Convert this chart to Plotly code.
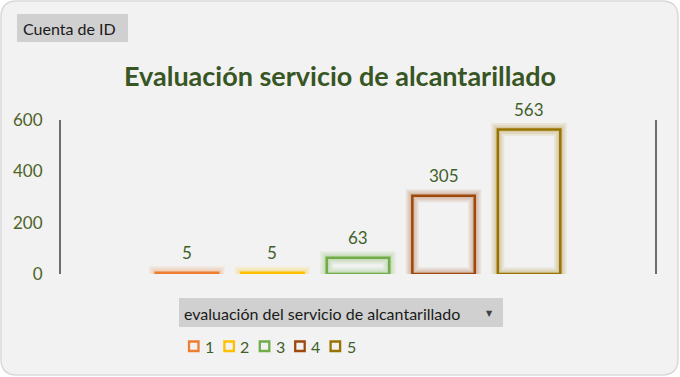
import plotly.graph_objects as go

categories = ["Total"]
series_names = ["1", "2", "3", "4", "5"]
series_values = [5, 5, 63, 305, 563]
series_colors = ["#ED7D31", "#FFC000", "#70AD47", "#9E480E", "#997300"]
glow_rgb = ["237,125,49", "255,192,0", "112,173,71", "158,72,14", "153,115,0"]
y_ticks = [0, 200, 400, 600]

W, H = 680, 377
L, R, T, B = 61, 25, 120, 103
PW, PH = W - L - R, H - T - B
BARGAP, GROUPGAP = 0.28, 0.27

def px(x):
    return (x - L) / PW

def py(y):
    return (H - B - y) / PH

fig = go.Figure()
for i, (name, val) in enumerate(zip(series_names, series_values)):
    for gw, ga in [(13, 0.10), (9, 0.12), (5, 0.14)]:
        fig.add_trace(go.Bar(
            x=categories, y=[val], name=name, offsetgroup=name, showlegend=False,
            marker=dict(color="rgba(0,0,0,0)",
                        line=dict(color=f"rgba({glow_rgb[i]},{ga})", width=gw)),
            hoverinfo="skip",
        ))
    fig.add_trace(go.Bar(
        x=categories, y=[val], name=name, offsetgroup=name, showlegend=False,
        marker=dict(color="rgba(242,242,242,0)", line=dict(color=series_colors[i], width=2.5)),
        cliponaxis=False,
    ))

# rounded outer frame
x0, x1, y0, y1, r = 1, 678, 1, 375, 16
def P(x, y):
    return f"{px(x):.5f},{py(y):.5f}"
path = (f"M {P(x0+r, y0)} L {P(x1-r, y0)} Q {P(x1, y0)} {P(x1, y0+r)} "
        f"L {P(x1, y1-r)} Q {P(x1, y1)} {P(x1-r, y1)} L {P(x0+r, y1)} "
        f"Q {P(x0, y1)} {P(x0, y1-r)} L {P(x0, y0+r)} Q {P(x0, y0)} {P(x0+r, y0)} Z")

shapes = [
    dict(type="path", xref="paper", yref="paper", path=path, fillcolor="#F2F2F2",
         line=dict(color="#D9D9D9", width=1.5), layer="below"),
    dict(type="rect", xref="paper", yref="paper", x0=px(17), x1=px(128), y0=py(42), y1=py(14),
         fillcolor="#D0D0D0", line=dict(width=0), layer="below"),
    dict(type="rect", xref="paper", yref="paper", x0=px(179), x1=px(503), y0=py(327), y1=py(298),
         fillcolor="#D0D0D0", line=dict(width=0), layer="below"),
]

annotations = [
    dict(text="Cuenta de ID", xref="paper", yref="paper", x=px(21), y=py(28), xanchor="left",
         yanchor="middle", showarrow=False, font=dict(family="Lato", size=16, color="#1A1A1A")),
    dict(text="evaluación del servicio de alcantarillado", xref="paper", yref="paper", x=px(182),
         y=py(313), xanchor="left", yanchor="middle", showarrow=False,
         font=dict(family="Lato", size=16, color="#1A1A1A")),
    dict(text="▼", xref="paper", yref="paper", x=px(489), y=py(313), xanchor="center",
         yanchor="middle", showarrow=False, font=dict(family="DejaVu Sans", size=8, color="#404040")),
]

# data labels above each bar
slot = PW * (1 - BARGAP) / len(series_values)
n = len(series_values)
for i, val in enumerate(series_values):
    annotations.append(dict(
        text=str(val), x=categories[0], y=val, xref="x", yref="y",
        xshift=(i - (n - 1) / 2) * slot, yshift=8, yanchor="bottom", xanchor="center",
        showarrow=False, font=dict(family="Lato", size=17, color="#3F5F2A")))

# legend (Excel-style compact)
leg_x0, leg_step, leg_y = 188, 35.4, 346
for i, name in enumerate(series_names):
    lx = leg_x0 + i * leg_step
    shapes.append(dict(type="rect", xref="paper", yref="paper",
                       x0=px(lx + 1), x1=px(lx + 10.5), y0=py(351), y1=py(341.5),
                       fillcolor="rgba(0,0,0,0)", line=dict(color=series_colors[i], width=2.3)))
    annotations.append(dict(text=name, xref="paper", yref="paper", x=px(lx + 15), y=py(leg_y),
                            xanchor="left", yanchor="middle", showarrow=False,
                            font=dict(family="Lato", size=16, color="#3F5F2A")))

fig.update_layout(
    width=W, height=H,
    margin=dict(l=L, r=R, t=T, b=B),
    paper_bgcolor="white", plot_bgcolor="rgba(0,0,0,0)",
    barmode="group", bargap=BARGAP, bargroupgap=GROUPGAP,
    title=dict(text="<b>Evaluación servicio de alcantarillado</b>", x=0.5, xanchor="center",
               y=1 - 77 / H, yanchor="middle",
               font=dict(family="Lato", size=27, color="#375623")),
    xaxis=dict(showticklabels=False, showgrid=False, zeroline=False, showline=False, ticks=""),
    yaxis=dict(range=[0, 600], tickvals=y_ticks, showgrid=False, zeroline=False,
               showline=True, linecolor="#6E6E6E", linewidth=2, mirror=True, ticks="",
               ticklabelstandoff=13,
               tickfont=dict(family="Lato", size=17, color="#4F6228")),
    shapes=shapes, annotations=annotations,
    showlegend=False,
)

fig.write_html("out.html", config={"displayModeBar": False},
               post_script="document.body.style.margin='0';")
